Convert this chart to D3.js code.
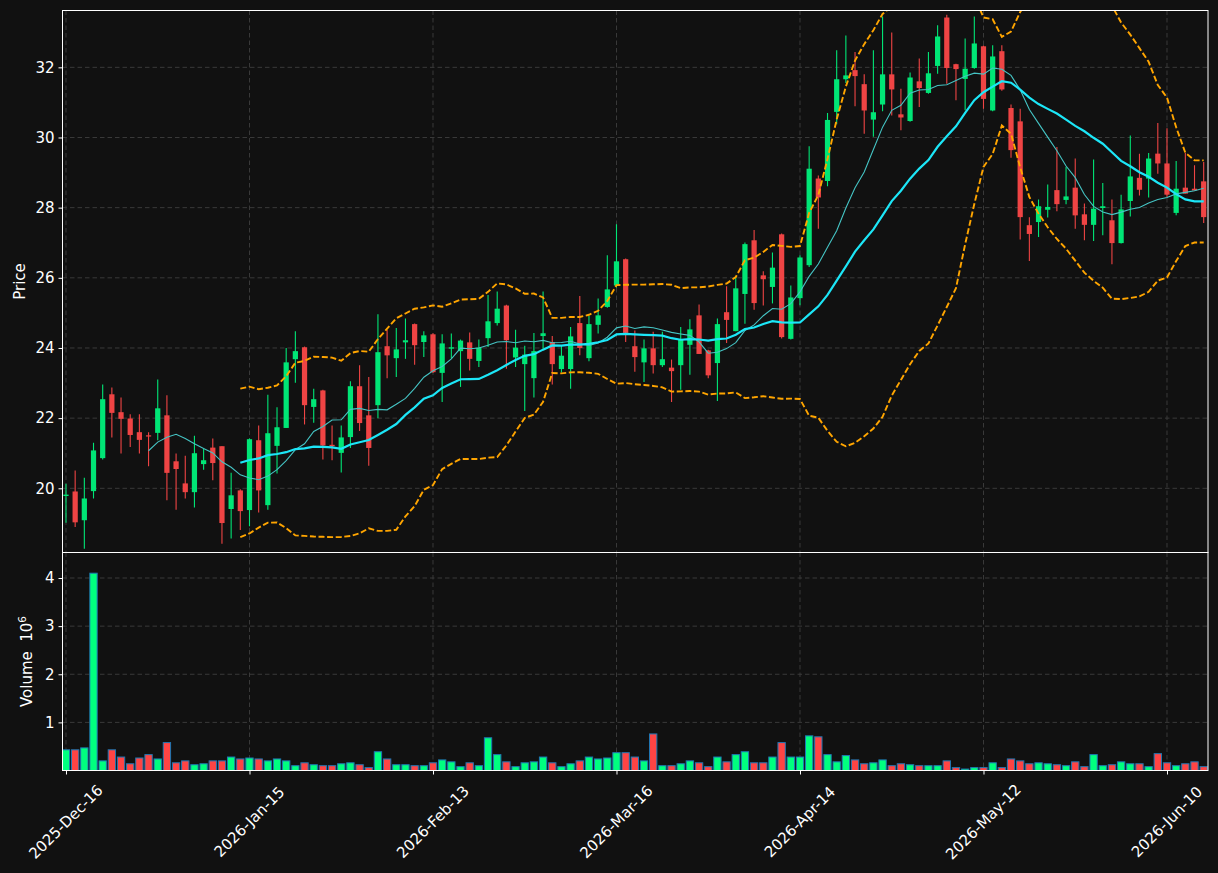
<!DOCTYPE html>
<html><head><meta charset="utf-8">
<script src="https://cdn.jsdelivr.net/npm/d3@7/dist/d3.min.js"></script>
<style>
html,body{margin:0;padding:0;background:#111111;}
svg{display:block;}
text{font-family:"DejaVu Sans",sans-serif;}
</style></head><body>
<svg id="chart" width="1218" height="873"></svg>
<script>
// ---- data ----
const opens = [19.78,19.91,19.09,19.92,20.86,22.68,22.17,21.99,21.60,21.51,
21.58,22.08,20.77,20.14,19.89,20.69,21.16,21.20,19.41,19.94,
19.38,21.37,19.52,21.21,21.72,23.68,24.02,22.32,22.79,21.24,
21.01,21.46,22.91,22.08,22.37,24.05,23.71,24.16,24.68,24.17,
24.39,23.29,23.98,23.91,24.16,23.63,24.28,24.71,25.21,23.73,
23.54,23.14,24.34,24.17,23.40,23.40,24.71,23.71,24.66,25.17,
25.78,26.53,24.05,23.59,23.99,23.51,23.44,23.51,24.09,24.93,
23.93,23.57,25.02,24.48,25.54,27.07,26.07,25.74,27.24,24.26,
25.42,26.36,28.83,28.76,30.73,31.66,31.92,31.52,30.51,30.94,
31.80,30.66,30.47,31.60,31.27,32.04,33.42,32.09,31.67,31.98,
32.60,30.77,32.46,30.84,30.46,27.50,27.59,27.94,28.50,28.22,
28.57,27.81,27.51,27.99,27.64,26.99,28.19,28.85,28.83,29.54,
29.26,27.85,28.57,28.54,28.75];
const highs = [20.13,20.51,20.30,21.30,22.96,22.87,22.59,22.11,22.11,21.60,
23.10,22.65,20.99,20.93,21.50,21.13,21.42,21.20,20.44,19.97,
21.42,21.79,22.67,22.31,24.00,24.48,24.04,22.84,22.81,21.79,
21.79,23.05,23.51,23.17,24.96,24.52,24.57,24.84,24.70,24.48,
24.42,24.39,24.41,24.24,24.44,24.24,25.51,25.61,25.23,24.52,
24.06,24.43,25.61,24.34,24.06,24.60,25.48,24.91,25.41,26.64,
27.53,26.55,24.50,24.24,24.46,24.46,23.67,24.60,24.82,25.24,
23.95,24.84,25.76,26.04,27.01,27.36,26.19,26.72,27.26,25.78,
26.64,29.75,28.92,30.70,32.49,32.91,32.44,31.80,32.49,33.45,
32.99,31.39,31.85,32.25,32.44,33.20,33.50,32.10,32.82,33.45,
32.62,32.63,32.63,30.94,30.82,27.73,28.23,28.66,29.73,29.16,
29.40,28.12,29.37,28.70,28.23,28.37,30.06,29.54,29.56,30.41,
30.26,29.33,29.56,29.21,29.30];
const lows = [19.02,18.90,18.28,19.71,20.82,21.45,20.99,21.18,20.99,20.63,
21.37,19.66,19.39,19.71,19.45,20.53,20.23,18.42,18.57,18.81,
18.92,19.31,19.39,20.42,21.72,23.01,21.82,21.87,20.82,20.80,
20.45,21.15,21.63,20.64,22.00,23.14,23.17,23.69,23.52,23.74,
23.29,22.46,23.70,22.89,23.36,23.46,24.03,24.64,23.41,23.46,
22.20,22.59,23.98,22.96,23.30,22.84,23.79,23.62,24.41,25.15,
25.72,24.17,23.32,23.03,23.27,23.46,22.46,22.81,23.24,23.83,
23.14,22.49,24.14,24.48,24.69,25.09,25.21,25.27,24.27,24.24,
25.22,26.31,27.40,28.61,30.38,31.55,30.89,30.11,30.02,30.75,
30.63,30.21,30.45,30.87,31.25,31.82,31.53,31.06,30.78,31.96,
30.82,30.75,31.33,29.42,27.09,26.48,27.16,27.72,27.90,28.10,
27.40,27.07,27.05,27.21,26.39,26.98,27.75,28.35,28.29,28.97,
28.30,27.78,28.40,28.49,27.56];
const closes = [19.82,19.03,19.71,21.08,22.54,22.15,21.98,21.52,21.38,21.49,
22.28,20.44,20.55,19.89,21.00,20.80,20.72,19.01,19.80,19.35,
21.40,19.94,21.57,21.74,23.59,23.91,22.37,22.54,21.22,21.20,
21.45,22.91,21.86,21.15,23.88,23.79,23.96,24.22,24.08,24.36,
23.31,24.13,24.02,24.21,23.69,24.01,24.76,25.12,24.22,24.01,
23.81,23.91,24.42,23.54,23.78,24.33,24.00,24.68,24.93,25.67,
26.47,24.43,23.74,23.99,23.51,23.68,23.34,24.24,24.53,23.83,
23.22,24.68,24.80,25.70,26.96,25.28,25.96,26.29,24.31,25.44,
26.58,29.11,28.29,30.50,31.66,31.77,31.75,30.77,30.72,31.80,
31.37,30.57,31.71,31.41,31.83,32.88,31.98,31.95,31.96,32.68,
31.10,32.31,31.37,29.64,27.73,27.25,28.04,28.02,28.10,28.32,
27.78,27.51,27.97,28.04,26.99,27.95,28.89,28.51,29.40,29.26,
28.37,28.54,28.40,28.49,27.73];
// volume in millions
const volumes = [0.43,0.43,0.47,4.10,0.20,0.43,0.28,0.14,0.26,0.33,
0.24,0.58,0.16,0.20,0.12,0.14,0.20,0.20,0.28,0.24,
0.26,0.24,0.20,0.24,0.20,0.10,0.16,0.12,0.10,0.10,
0.14,0.16,0.12,0.06,0.39,0.24,0.12,0.12,0.10,0.10,
0.16,0.22,0.18,0.08,0.16,0.10,0.68,0.33,0.18,0.08,
0.16,0.18,0.28,0.16,0.08,0.14,0.20,0.28,0.24,0.26,
0.37,0.37,0.28,0.20,0.76,0.10,0.10,0.14,0.20,0.16,
0.08,0.28,0.18,0.33,0.39,0.16,0.16,0.28,0.58,0.28,
0.28,0.72,0.70,0.33,0.18,0.31,0.22,0.14,0.16,0.22,
0.10,0.14,0.12,0.10,0.10,0.10,0.20,0.06,0.03,0.06,
0.06,0.16,0.06,0.24,0.20,0.14,0.16,0.14,0.12,0.10,
0.18,0.08,0.33,0.10,0.12,0.18,0.14,0.14,0.08,0.35,
0.16,0.10,0.14,0.18,0.08];
const tickIndex = [0,20,40,60,80,100,120];
const tickLabels = ["2025-Dec-16","2026-Jan-15","2026-Feb-13","2026-Mar-16","2026-Apr-14","2026-May-12","2026-Jun-10"];
const priceTicks = [20,22,24,26,28,30,32];
const volumeTicks = [1,2,3,4];
const maShort = 10, maLong = 20, bbK = 2;

// ---- layout ----
const W=1218,H=873;
const L=62.5,R=1208,T=10.5,MID=552.5,B=770.5;
const C_UP="#00e676", C_DN="#ef4444", V_UP="#00ff7f", V_DN="#ff4444";
const GRID="#3a3a3a";
const FS=15;

const svg=d3.select('#chart');
svg.append('rect').attr('width',W).attr('height',H).attr('fill','#111111');

const n=closes.length;
const idx=d3.range(n);
const x=d3.scaleLinear().domain([-0.38,124.47]).range([L,R]);
const yP=d3.scaleLinear().domain([18.17,33.62]).range([MID,T]);
const yV=d3.scaleLinear().domain([0,4.53]).range([B,MID]);
const step=x(1)-x(0);

const defs=svg.append('defs');
defs.append('clipPath').attr('id','cp').append('rect').attr('x',L).attr('y',T).attr('width',R-L).attr('height',MID-T);
defs.append('clipPath').attr('id','cv').append('rect').attr('x',L).attr('y',MID).attr('width',R-L).attr('height',B-MID);

// grids
function vgrid(y0,y1){
  svg.append('g').selectAll('line').data(tickIndex).join('line')
    .attr('x1',d=>x(d)).attr('x2',d=>x(d)).attr('y1',y0).attr('y2',y1)
    .attr('stroke',GRID).attr('stroke-width',1).attr('stroke-dasharray','4.5,3');
}
vgrid(T,MID); vgrid(MID,B);
svg.append('g').selectAll('line').data(priceTicks).join('line')
  .attr('x1',L).attr('x2',R).attr('y1',d=>yP(d)).attr('y2',d=>yP(d))
  .attr('stroke',GRID).attr('stroke-width',1).attr('stroke-dasharray','4.5,3');
svg.append('g').selectAll('line').data(volumeTicks).join('line')
  .attr('x1',L).attr('x2',R).attr('y1',d=>yV(d)).attr('y2',d=>yV(d))
  .attr('stroke',GRID).attr('stroke-width',1).attr('stroke-dasharray','4.5,3');

// candles
const gc=svg.append('g').attr('clip-path','url(#cp)');
const up=i=>closes[i]>=opens[i];
gc.selectAll('line.w').data(idx).join('line').attr('class','w')
  .attr('x1',i=>x(i)).attr('x2',i=>x(i)).attr('y1',i=>yP(highs[i])).attr('y2',i=>yP(lows[i]))
  .attr('stroke',i=>up(i)?C_UP:C_DN).attr('stroke-width',1.1);
const bw=step*0.57;
gc.selectAll('rect.b').data(idx).join('rect').attr('class','b')
  .attr('x',i=>x(i)-bw/2).attr('width',bw)
  .attr('y',i=>yP(Math.max(opens[i],closes[i])))
  .attr('height',i=>Math.max(1.2,Math.abs(yP(opens[i])-yP(closes[i]))))
  .attr('fill',i=>up(i)?C_UP:C_DN);

// indicators derived from closes
function rollMean(w){return idx.map(i=>i<w-1?null:d3.mean(closes.slice(i-w+1,i+1)));}
function rollStd(w){return idx.map(i=>{if(i<w-1)return null;const s=closes.slice(i-w+1,i+1);const m=d3.mean(s);return Math.sqrt(d3.mean(s.map(v=>(v-m)*(v-m))));});}
const ma10=rollMean(maShort), ma20=rollMean(maLong), sd20=rollStd(maLong);
const bbU=ma20.map((m,i)=>m==null?null:m+bbK*sd20[i]);
const bbL=ma20.map((m,i)=>m==null?null:m-bbK*sd20[i]);
const line=arr=>d3.line().defined(i=>arr[i]!=null).x(i=>x(i)).y(i=>yP(arr[i]))(idx);
gc.append('path').attr('d',line(bbU)).attr('fill','none').attr('stroke','#ffa500').attr('stroke-width',1.9).attr('stroke-dasharray','6,2.6');
gc.append('path').attr('d',line(bbL)).attr('fill','none').attr('stroke','#ffa500').attr('stroke-width',1.9).attr('stroke-dasharray','6,2.6');
gc.append('path').attr('d',line(ma10)).attr('fill','none').attr('stroke','#45c4c4').attr('stroke-width',1.1);
gc.append('path').attr('d',line(ma20)).attr('fill','none').attr('stroke','#1ce6f7').attr('stroke-width',2.2);

// volume
const gv=svg.append('g').attr('clip-path','url(#cv)');
const vw=step*0.8;
gv.selectAll('rect').data(idx).join('rect')
  .attr('x',i=>x(i)-vw/2).attr('width',vw)
  .attr('y',i=>yV(volumes[i])).attr('height',i=>yV(0)-yV(volumes[i]))
  .attr('fill',i=>up(i)?V_UP:V_DN).attr('stroke','#1f77b4').attr('stroke-width',1);

// axes
function styleAxis(g){
  g.select('.domain').remove();
  g.attr('font-size',FS).attr('font-family','DejaVu Sans');
  g.selectAll('line').attr('stroke','#ffffff').attr('stroke-width',1);
  g.selectAll('text').attr('fill','#ffffff').attr('font-size',FS).attr('font-family','DejaVu Sans');
}
svg.append('g').attr('transform',`translate(${L},0)`)
  .call(d3.axisLeft(yP).tickValues(priceTicks).tickFormat(d3.format('d')).tickSize(4).tickPadding(4)).call(styleAxis);
svg.append('g').attr('transform',`translate(${L},0)`)
  .call(d3.axisLeft(yV).tickValues(volumeTicks).tickFormat(d3.format('d')).tickSize(4).tickPadding(4)).call(styleAxis);
svg.append('g').attr('transform',`translate(0,${B})`)
  .call(d3.axisBottom(x).tickValues(tickIndex).tickFormat(()=>'').tickSize(4)).call(styleAxis);

// rotated date labels
svg.append('g').selectAll('text').data(tickIndex).join('text')
  .attr('transform',(d)=>`translate(${x(d)},${822}) rotate(-45)`)
  .attr('text-anchor','middle').attr('dominant-baseline','central')
  .attr('fill','#ffffff').attr('font-size',FS)
  .text((d,k)=>tickLabels[k]);

// spines
svg.append('rect').attr('x',L).attr('y',T).attr('width',R-L).attr('height',MID-T).attr('fill','none').attr('stroke','#ffffff').attr('stroke-width',1);
svg.append('rect').attr('x',L).attr('y',MID).attr('width',R-L).attr('height',B-MID).attr('fill','none').attr('stroke','#ffffff').attr('stroke-width',1);

// axis titles
svg.append('text').attr('transform',`translate(24.5,${(T+MID)/2}) rotate(-90)`)
  .attr('text-anchor','middle').attr('fill','#ffffff').attr('font-size',FS).text('Price');
const vt=svg.append('text').attr('transform',`translate(31.5,${(MID+B)/2}) rotate(-90)`)
  .attr('text-anchor','middle').attr('fill','#ffffff').attr('font-size',FS);
vt.append('tspan').text('Volume\u00a0\u00a010');
vt.append('tspan').attr('dy',-6).attr('font-size',10.5).text('6');
</script>
</body></html>
